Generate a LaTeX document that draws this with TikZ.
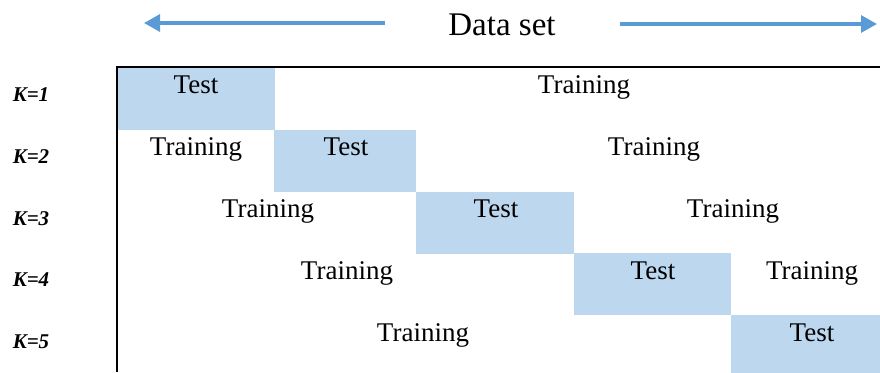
\documentclass[tikz,border=0pt]{standalone}
\usepackage{fontspec}
\setmainfont{Liberation Serif}
\usetikzlibrary{arrows.meta}
\definecolor{arrowblue}{HTML}{5B9BD5}
\definecolor{testblue}{HTML}{BDD7EE}
\begin{document}
\begin{tikzpicture}[x=1pt,y=-1pt,
  testbox/.style={fill=testblue, draw=none, inner sep=0pt, outer sep=0pt, anchor=north west},
  lbl/.style={anchor=base, inner sep=0pt, font=\fontsize{27}{30}\selectfont},
  klbl/.style={anchor=base, inner sep=0pt, font=\fontsize{21}{24}\selectfont\bfseries\itshape},
  arr/.style={draw=arrowblue, line width=3.2pt, -{Triangle[length=16pt,width=17pt]}},
  frame/.style={draw=black, line width=2.5pt}]
\useasboundingbox (0,0) rectangle (880,372);
% test boxes
\node[testbox, minimum width=158pt, minimum height=63pt] (t1) at (117,67) {};
\node[testbox, minimum width=142pt, minimum height=62pt] (t2) at (274,129.5) {};
\node[testbox, minimum width=158pt, minimum height=62pt] (t3) at (416,191.5) {};
\node[testbox, minimum width=157pt, minimum height=62pt] (t4) at (574,253) {};
\node[testbox, minimum width=149pt, minimum height=58pt] (t5) at (731,315) {};
% frame
\coordinate (fa) at (117,67);
\coordinate (fb) at (880,67);
\coordinate (fc) at (117,372);
\draw[frame] (fc) -- (fa) -- (fb);
% arrows and title
\node[anchor=base, inner sep=0pt, font=\fontsize{33}{36}\selectfont] (ds) at (502,35) {Data set};
\coordinate (la) at (385,23);
\coordinate (lb) at (144,23);
\coordinate (ra) at (620,24);
\coordinate (rb) at (877,24);
\draw[arr] (la) -- (lb);
\draw[arr] (ra) -- (rb);
% K labels
\node[klbl] (k1) at (31,101) {K=1};
\node[klbl] (k2) at (31,163) {K=2};
\node[klbl] (k3) at (31,225) {K=3};
\node[klbl] (k4) at (31,286) {K=4};
\node[klbl] (k5) at (31,348) {K=5};
% row texts
\node[lbl] (r1a) at (196,93) {Test};
\node[lbl] (r1b) at (584,93) {Training};
\node[lbl] (r2a) at (196,155) {Training};
\node[lbl] (r2b) at (346,155) {Test};
\node[lbl] (r2c) at (654,155) {Training};
\node[lbl] (r3a) at (268,217) {Training};
\node[lbl] (r3b) at (496,217) {Test};
\node[lbl] (r3c) at (733,217) {Training};
\node[lbl] (r4a) at (347,279) {Training};
\node[lbl] (r4b) at (653,279) {Test};
\node[lbl] (r4c) at (812,279) {Training};
\node[lbl] (r5a) at (423,341) {Training};
\node[lbl] (r5b) at (812,341) {Test};
\end{tikzpicture}
\end{document}
